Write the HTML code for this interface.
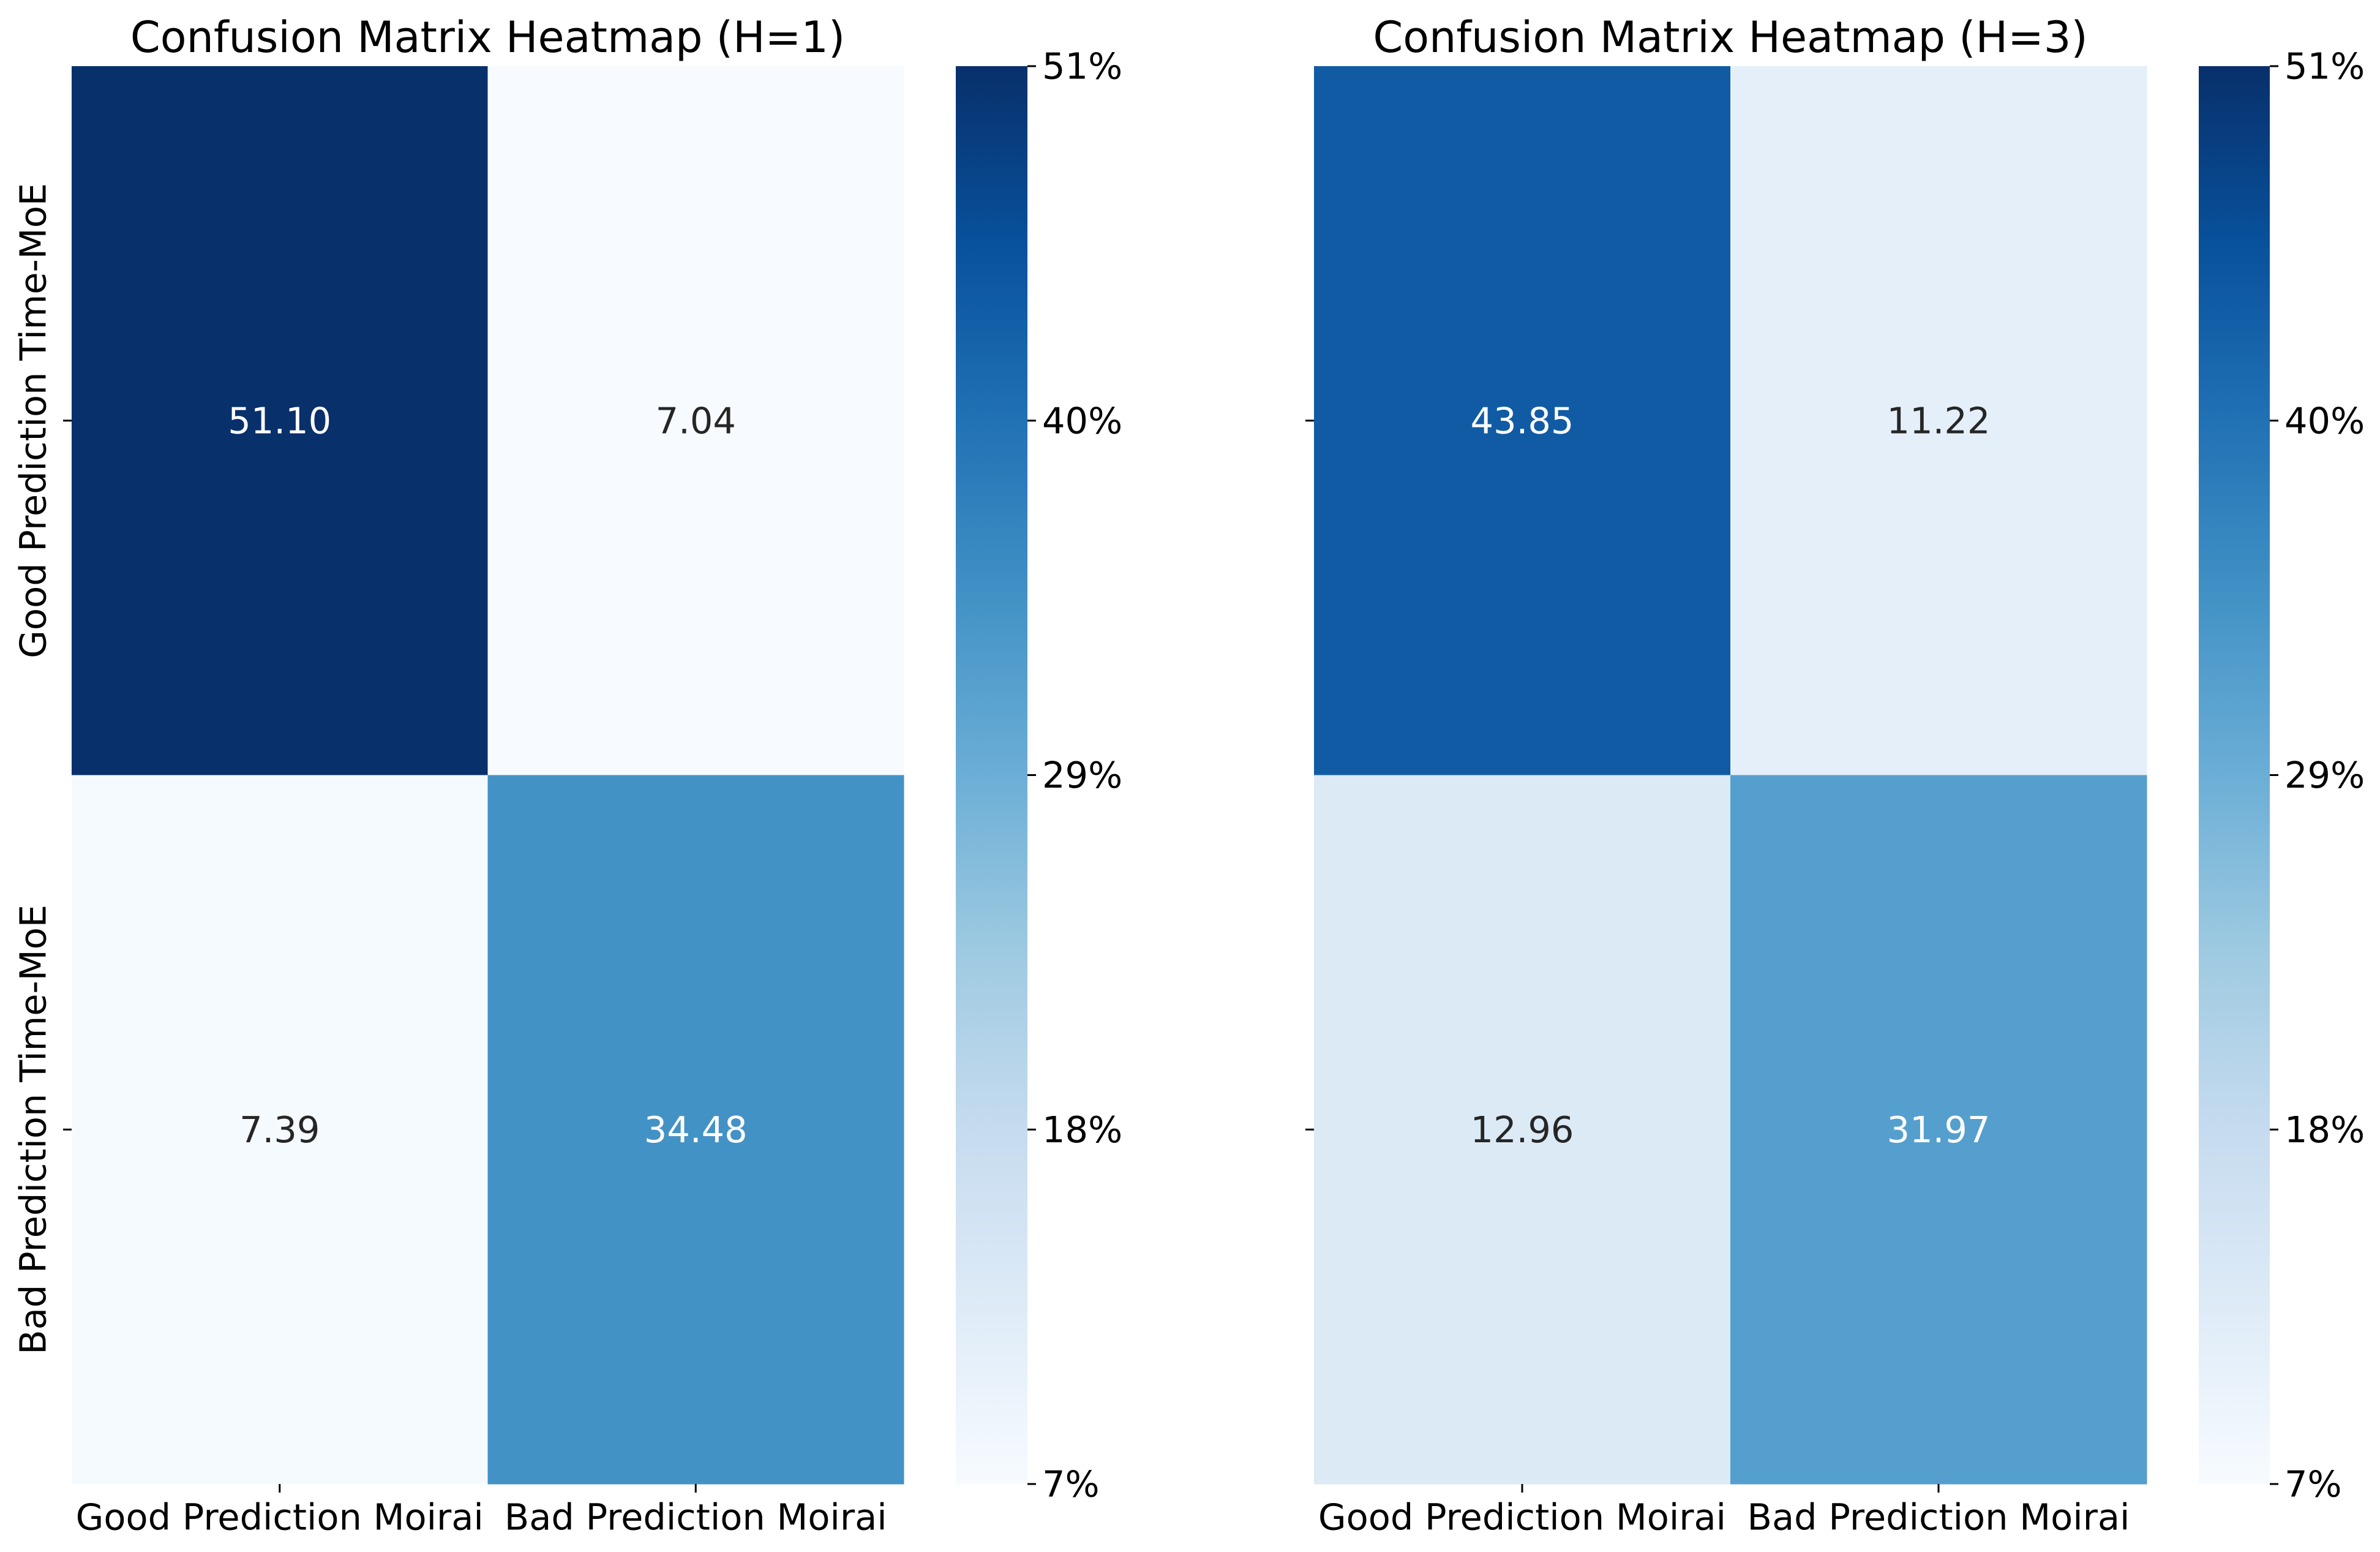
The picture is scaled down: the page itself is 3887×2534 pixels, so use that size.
<!DOCTYPE html>
<html><head><meta charset="utf-8"><style>html,body{margin:0;padding:0;background:#fff}svg{display:block}text{font-family:"DejaVu Sans","Liberation Sans",sans-serif;}</style></head>
<body>
<svg id="fig" width="3887" height="2534" viewBox="0 0 3887 2534" xmlns="http://www.w3.org/2000/svg">
<defs>
<linearGradient id="bluesGrad" x1="0" y1="1" x2="0" y2="0">
<stop offset="0" stop-color="#f7fbff"/><stop offset="0.125" stop-color="#deebf7"/><stop offset="0.25" stop-color="#c6dbef"/><stop offset="0.375" stop-color="#9ecae1"/><stop offset="0.5" stop-color="#6baed6"/><stop offset="0.625" stop-color="#4292c6"/><stop offset="0.75" stop-color="#2171b5"/><stop offset="0.875" stop-color="#08519c"/><stop offset="1" stop-color="#08306b"/>
</linearGradient>
</defs>
</svg>
<script>
const rowLabels = ["Good Prediction Time-MoE", "Bad Prediction Time-MoE"];
const colLabels = ["Good Prediction Moirai", "Bad Prediction Moirai"];
const valuesH1 = [[51.10, 7.04], [7.39, 34.48]];
const valuesH3 = [[43.85, 11.22], [12.96, 31.97]];
const titles = ["Confusion Matrix Heatmap (H=1)", "Confusion Matrix Heatmap (H=3)"];
const vmin = 7.04, vmax = 51.10;

const NS = "http://www.w3.org/2000/svg";
const svg = document.getElementById("fig");
const stops = ["#f7fbff","#deebf7","#c6dbef","#9ecae1","#6baed6","#4292c6","#2171b5","#08519c","#08306b"];
function hex(h){return [1,3,5].map(i=>parseInt(h.substr(i,2),16));}
function blues(v){
  let t=Math.max(0,Math.min(1,(v-vmin)/(vmax-vmin)))*8;
  let i=Math.min(7,Math.floor(t)),f=t-i;
  const a=hex(stops[i]),b=hex(stops[i+1]);
  return "rgb("+a.map((c,k)=>Math.round(c+(b[k]-c)*f)).join(",")+")";
}
function lum(v){ return (v-vmin)/(vmax-vmin); }
function el(tag,attrs,txt){const e=document.createElementNS(NS,tag);for(const k in attrs)e.setAttribute(k,attrs[k]);if(txt!==undefined)e.textContent=txt;svg.appendChild(e);return e;}

const panels=[{x0:117,x1:1476,cb0:1561,cb1:1678,vals:valuesH1,labels:true},{x0:2146,x1:3506,cb0:3591,cb1:3707,vals:valuesH3,labels:false}];
const y0=108,y1=2423;
panels.forEach((p,pi)=>{
  const cw=(p.x1-p.x0)/colLabels.length, ch=(y1-y0)/rowLabels.length;
  const xS=j=>p.x0+j*cw, yS=i=>y0+i*ch;
  p.vals.forEach((row,i)=>row.forEach((v,j)=>{
    const r=el("rect",{x:xS(j),y:yS(i),width:cw+0.5,height:ch+0.5,fill:blues(v)});
    
    
    const t=el("text",{x:xS(j)+cw/2,y:yS(i)+ch/2,"font-size":59,"text-anchor":"middle","dominant-baseline":"central",fill:lum(v)>0.45?"#ffffff":"#262626"},v.toFixed(2));
    
    
  }));
  const title=el("text",{x:(p.x0+p.x1)/2,y:61,"font-size":70,"text-anchor":"middle","dominant-baseline":"central",fill:"#000"},titles[pi]);
  
  
  colLabels.forEach((c,j)=>{
    const cx=xS(j)+cw/2;
    el("line",{x1:cx,y1:y1,x2:cx,y2:y1+14,stroke:"#000","stroke-width":3});
    const t=el("text",{x:cx,y:2477,"font-size":59,"text-anchor":"middle","dominant-baseline":"central",fill:"#000"},c);
    
    
  });
  rowLabels.forEach((rl,i)=>{
    const cy=yS(i)+ch/2;
    el("line",{x1:p.x0-14,y1:cy,x2:p.x0,y2:cy,stroke:"#000","stroke-width":3});
    if(p.labels){
      const t=el("text",{x:54,y:cy,"font-size":59,"text-anchor":"middle","dominant-baseline":"central",fill:"#000",transform:"rotate(-90 54 "+cy+")"},rl);
      
      
    }
  });
  const cb=el("rect",{x:p.cb0,y:y0,width:p.cb1-p.cb0,height:y1-y0,fill:"url(#bluesGrad)"});
  
  
  for(let k=0;k<5;k++){
    const v=vmin+(vmax-vmin)*k/4;
    const ty=y1-(v-vmin)/(vmax-vmin)*(y1-y0);
    el("line",{x1:p.cb1,y1:ty,x2:p.cb1+14,y2:ty,stroke:"#000","stroke-width":3});
    const t=el("text",{x:p.cb1+24,y:ty,"font-size":59,"dominant-baseline":"central",fill:"#000"},Math.round(v)+"%");
    
    
  }
});
</script>
</body></html>
